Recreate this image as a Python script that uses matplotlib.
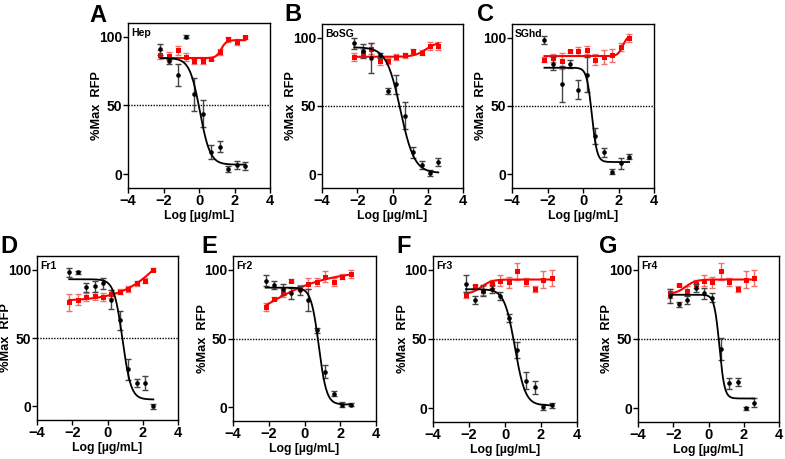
import numpy as np
import matplotlib
matplotlib.use("Agg")
import matplotlib.pyplot as plt

plt.rcParams['font.family'] = ['Liberation Sans', 'DejaVu Sans']
plt.rcParams['font.weight'] = 'bold'

# log10 concentration (3-fold dilutions from 400 ug/mL)
log_conc = [-2.17, -1.69, -1.21, -0.73, -0.26, 0.22, 0.69, 1.17, 1.65, 2.12, 2.60]

panel_letters = ["A", "B", "C", "D", "E", "F", "G"]
panel_names = ["Hep", "BoSG", "SGhd", "Fr1", "Fr2", "Fr3", "Fr4"]

# black series (mean, sem)
black_A = [91, 82, 72, 100, 58, 44, 16, 20, 4, 7, 6]
black_A_err = [4, 2, 8, 1, 12, 10, 5, 4, 2, 3, 3]
black_B = [96, 90, 85, 87, 61, 66, 43, 16, 7, 1, 9]
black_B_err = [4, 5, 11, 2, 2, 7, 10, 4, 3, 2, 3]
black_C = [98, 81, 66, 81, 62, 73, 28, 16, 2, 8, 13]
black_C_err = [3, 5, 13, 3, 7, 13, 6, 3, 2, 4, 2]
black_D = [98, 98, 87, 88, 90, 78, 63, 27, 17, 17, 0]
black_D_err = [3, 1, 3, 4, 4, 7, 7, 8, 3, 5, 2]
black_E = [92, 89, 86, 83, 85, 78, 56, 26, 10, 2, 2]
black_E_err = [4, 3, 4, 4, 3, 8, 2, 5, 2, 2, 1]
black_F = [90, 78, 85, 86, 81, 65, 42, 20, 15, 1, 2]
black_F_err = [6, 3, 4, 3, 3, 3, 6, 6, 5, 2, 2]
black_G = [81, 75, 78, 87, 83, 80, 43, 18, 19, 0, 4]
black_G_err = [5, 2, 3, 3, 4, 3, 8, 4, 3, 1, 3]

# red series (mean, sem)
red_A = [87, 86, 90, 85, 82, 82, 84, 89, 98, 96, 99.5]
red_A_err = [3, 3, 3, 3, 2, 2, 1, 2, 2, 2, 1]
red_B = [86, 89, 92, 83, 83, 86, 87, 90, 89, 94, 94]
red_B_err = [3, 3, 4, 3, 2, 2, 2, 2, 2, 3, 3]
red_C = [84, 85, 83, 90, 90, 91, 84, 86, 87, 93, 100]
red_C_err = [2, 3, 6, 1, 3, 3, 4, 5, 5, 3, 3]
red_D = [76, 78, 80, 81, 80, 82, 84, 86, 90, 92, 100]
red_D_err = [6, 4, 3, 3, 3, 3, 2, 2, 2, 2, 1]
red_E = [73, 79, 83, 92, 87, 90, 91, 95, 91, 95, 97]
red_E_err = [3, 1, 3, 1, 2, 4, 3, 4, 3, 2, 3]
red_F = [82, 88, 85, 90, 92, 91, 99, 91, 86, 93, 94]
red_F_err = [2, 1, 3, 3, 4, 4, 6, 3, 2, 6, 6]
red_G = [83, 89, 85, 90, 92, 91, 99, 91, 86, 93, 94]
red_G_err = [3, 1, 3, 3, 4, 4, 6, 3, 2, 6, 6]

# 4-parameter logistic fits: bottom, top, logEC50, hill
black_fit = [
    [7, 84.5, 0.05, 1.5],
    [1, 93, 0.45, 1.1],
    [9, 78, 0.5, 3.0],
    [5, 93, 0.85, 1.8],
    [2, 87, 0.8, 2.0],
    [2, 86, 0.55, 1.5],
    [7, 82, 0.62, 3.0],
]
red_fit = [
    [84.5, 97.5, 1.25, 3.0],
    [86, 97, 1.9, 1.3],
    [86.5, 102, 2.25, 3.0],
    [77, 150, 3.57, 0.347],
    [40, 100, -2.68, 0.23],
    [82.5, 93, -1.3, 1.5],
    [82.5, 93, -1.3, 1.5],
]

blacks = [black_A, black_B, black_C, black_D, black_E, black_F, black_G]
black_errs = [black_A_err, black_B_err, black_C_err, black_D_err, black_E_err, black_F_err, black_G_err]
reds = [red_A, red_B, red_C, red_D, red_E, red_F, red_G]
red_errs = [red_A_err, red_B_err, red_C_err, red_D_err, red_E_err, red_F_err, red_G_err]

W, H = 785, 459
fig = plt.figure(figsize=(W / 100, H / 100), dpi=100)

# axes boxes in pixels: left, right, top, bottom
boxes = [
    (128, 270, 23, 188),
    (322, 463, 24, 188),
    (512, 654, 24, 188),
    (37, 178, 256, 420),
    (233, 376, 256, 421),
    (433, 577, 256, 422),
    (638, 779, 256, 422),
]
letter_pos = [(89, 22), (284, 21), (477, 21), (0, 253), (201, 253), (396, 253), (599, 253)]


def logistic(x, p):
    bottom, top, ec50, hill = p
    return bottom + (top - bottom) / (1 + 10 ** ((ec50 - x) * hill))


xs = np.linspace(min(log_conc), max(log_conc), 300)

for i in range(7):
    l, r, t, b = boxes[i]
    ax = fig.add_axes([l / W, 1 - b / H, (r - l) / W, (b - t) / H])
    ax.axhline(50, color='black', ls=(0, (1, 1)), lw=1.0, zorder=1)

    ax.errorbar(log_conc, reds[i], yerr=red_errs[i], fmt='none', ecolor='#f07070',
                elinewidth=1.0, capsize=2.5, capthick=1.0, zorder=2)
    ax.plot(xs, logistic(xs, red_fit[i]), color='#ff0000', lw=1.5, zorder=3)
    ax.plot(log_conc, reds[i], 's', color='#ff0000', ms=3.6, mew=0, zorder=4)

    ax.errorbar(log_conc, blacks[i], yerr=black_errs[i], fmt='none', ecolor='#444444',
                elinewidth=1.0, capsize=2.5, capthick=1.0, zorder=5)
    # black fit is decreasing: top at low conc
    bf = black_fit[i]
    ax.plot(xs, logistic(xs, [bf[1], bf[0], bf[2], bf[3]]), color='black', lw=1.3, zorder=6)
    ax.plot(log_conc, blacks[i], 'o', color='black', ms=3.3, mew=0, zorder=7)

    ax.set_xlim(-4, 4)
    ax.set_ylim(-10, 110)
    ax.set_xticks([-4, -2, 0, 2, 4])
    ax.set_yticks([0, 50, 100])
    ax.tick_params(direction='out', length=3.5, width=1.0, labelsize=10.5, pad=1.0)
    ax.tick_params(axis='y', labelsize=10, pad=0.8)
    for lab in ax.get_xticklabels() + ax.get_yticklabels():
        lab.set_fontweight('bold')
    for s in ax.spines.values():
        s.set_linewidth(1.0)
    ax.set_xlabel('Log [µg/mL]', fontsize=8.8, fontweight='bold', labelpad=1)
    ax.set_ylabel('%Max  RFP', fontsize=9.2, fontweight='bold')
    ax.yaxis.set_label_coords(-24.5 / (r - l), 0.5)
    ax.text(0.02, 0.97, panel_names[i], transform=ax.transAxes, fontsize=7.5,
            fontweight='bold', ha='left', va='top')

    lx, ly = letter_pos[i]
    fig.text(lx / W, 1 - ly / H, panel_letters[i], fontsize=17, fontweight='bold',
             ha='left', va='baseline')

fig.savefig('out.png', dpi=100)
